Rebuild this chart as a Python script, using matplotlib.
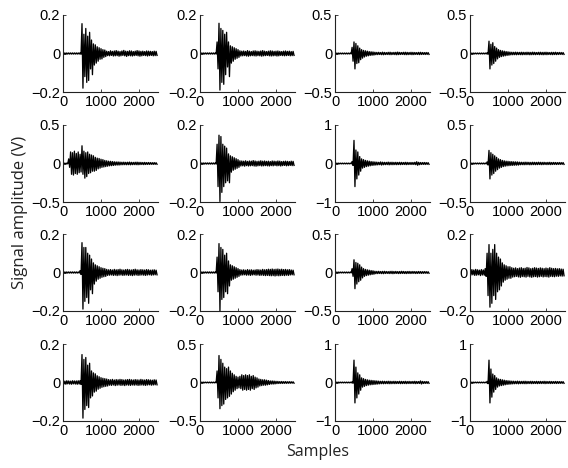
import matplotlib
matplotlib.use("Agg")
import matplotlib.pyplot as plt

# Sample positions of the envelope readings (every 50 samples, 0..2450)
sample_pos = list(range(0, 2500, 50))
x_ticks = [0, 1000, 2000]
x_max = 2500

# Symmetric y-limits of each panel, row by row
y_limits = [
    [0.2, 0.2, 0.5, 0.5],
    [0.5, 0.2, 1.0, 0.5],
    [0.2, 0.2, 0.5, 0.2],
    [0.2, 0.5, 1.0, 1.0],
]

# Upper / lower envelope of each recorded signal (V)
a1_hi = [0.003] * 9 + [0.004, .155, .10, .13, .09, .11, .07, .05, .045, .035, .03, .025, .02, .018] + \
    [.012, .010, .014, .011, .013, .015, .012, .010, .013, .016, .012, .011, .014, .013, .010, .012, .015,
     .013, .011, .012, .010, .013, .012, .011, .010, .012, .011]
a1_lo = [-0.003] * 9 + [-0.004, -.18, -.12, -.15, -.14, -.08, -.11, -.06, -.05, -.04, -.03, -.028, -.02, -.016] + \
    [-.011, -.012, -.010, -.013, -.012, -.011, -.014, -.012, -.010, -.012, -.015, -.011, -.012, -.013, -.011,
     -.010, -.012, -.014, -.012, -.010, -.011, -.013, -.011, -.010, -.012, -.011, -.010]

a2_hi = [0.003] * 9 + [.06, .157, .13, .12, .10, .11, .06, .04, .035, .03, .025, .02] + \
    [.014, .012, .013, .011, .015, .012, .010, .013, .014, .012, .011, .013, .015, .012, .010,
     .012, .014, .013, .011, .012, .013, .011, .010, .012, .013, .011, .012, .010, .011]
a2_lo = [-0.003] * 9 + [-.08, -.19, -.15, -.16, -.11, -.07, -.12, -.05, -.04, -.03, -.025, -.02] + \
    [-.013, -.012, -.011, -.013, -.014, -.012, -.011, -.012, -.013, -.011, -.012, -.014, -.012, -.011, -.010,
     -.012, -.013, -.012, -.011, -.013, -.012, -.010, -.011, -.012, -.011, -.010, -.012, -.011, -.010]

a3_hi = [0.006] * 9 + [.08, .15, .13, .10, .07, .05, .04, .035, .03, .025, .022, .02] + \
    [.016, .014, .015, .013, .017, .014, .012, .015, .016, .013, .014, .015, .018, .014, .013,
     .015, .016, .014, .013, .015, .014, .013, .012, .014, .015, .013, .012, .013, .012]
a3_lo = [-0.006] * 9 + [-.1, -.2, -.13, -.12, -.08, -.06, -.045, -.035, -.03, -.025, -.022, -.02] + \
    [-.015, -.014, -.013, -.015, -.016, -.014, -.013, -.014, -.015, -.013, -.014, -.016, -.014, -.013, -.012,
     -.014, -.015, -.014, -.013, -.015, -.014, -.012, -.013, -.014, -.013, -.012, -.013, -.012, -.012]

a4_hi = [0.006] * 9 + [.01, .16, .12, .14, .09, .07, .05, .04, .035, .03, .025, .022] + \
    [.018, .016, .015, .017, .015, .014, .016, .015, .014, .016, .015, .014, .017, .015, .013,
     .015, .016, .014, .015, .016, .014, .013, .015, .014, .016, .013, .014, .013, .012]
a4_lo = [-0.006] * 9 + [-.01, -.2, -.15, -.13, -.10, -.07, -.05, -.04, -.035, -.03, -.025, -.022] + \
    [-.017, -.016, -.015, -.016, -.014, -.015, -.016, -.014, -.015, -.014, -.016, -.015, -.014, -.015, -.013,
     -.015, -.014, -.016, -.014, -.015, -.013, -.014, -.015, -.013, -.014, -.013, -.012, -.013, -.012]

b1_hi = [0.005] * 3 + [.06, .15, .14, .16, .13, .15, .12, .23, .16, .14, .15, .12, .11, .10, .08, .07, .065,
                       .055, .05, .04, .035, .03, .028, .025, .022, .02, .02] + \
    [.018, .016, .017, .015, .016, .018, .015, .014, .016, .017, .015, .014, .013, .014, .012,
     .013, .012, .011, .012, .010]
b1_lo = [-0.005] * 3 + [-.05, -.14, -.15, -.13, -.14, -.12, -.11, -.14, -.19, -.17, -.13, -.12, -.10, -.10, -.09,
                        -.07, -.06, -.05, -.045, -.04, -.035, -.03, -.028, -.025, -.022, -.02, -.02] + \
    [-.017, -.016, -.015, -.016, -.015, -.017, -.015, -.014, -.015, -.016, -.014, -.013, -.014, -.013, -.012,
     -.012, -.011, -.012, -.011, -.010]

b2_hi = [0.003] * 9 + [.1, .147, .14, .10, .09, .08, .05, .04, .035, .03, .025, .02] + \
    [.014, .013, .012, .014, .011, .013, .012, .015, .013, .011, .012, .014, .012, .013, .011,
     .012, .010, .013, .012, .011, .013, .012, .010, .011, .012, .011, .010, .012, .011]
b2_lo = [-0.003] * 9 + [-.12, -.197, -.15, -.12, -.10, -.09, -.10, -.045, -.035, -.03, -.025, -.02] + \
    [-.013, -.012, -.014, -.011, -.013, -.012, -.011, -.013, -.014, -.012, -.011, -.013, -.012, -.011, -.012,
     -.013, -.011, -.012, -.010, -.012, -.011, -.013, -.011, -.010, -.012, -.011, -.010, -.011, -.010]

b3_hi = [0.01] * 9 + [.05, .6, .35, .3, .18, .12, .1, .08, .07, .06, .05, .045, .04] + \
    [.035, .03, .04, .033, .03, .028, .035, .03, .032, .028, .03, .027, .03, .028, .026,
     .03, .028, .025, .027, .026, .03, .045, .03, .026, .025, .027, .024, .022]
b3_lo = [-0.01] * 9 + [-.05, -.6, -.4, -.3, -.2, -.12, -.1, -.08, -.07, -.06, -.05, -.045, -.04] + \
    [-.035, -.03, -.04, -.032, -.03, -.028, -.034, -.03, -.031, -.028, -.03, -.027, -.029, -.027, -.026,
     -.029, -.027, -.025, -.026, -.025, -.03, -.045, -.03, -.025, -.024, -.026, -.023, -.022]

b4_hi = [0.006] * 9 + [.02, .17, .14, .12, .10, .08, .06, .05, .04, .035, .03, .028, .025, .024, .022, .021, .02] + \
    [.017, .016, .015, .017, .016, .015, .014, .016, .015, .014, .016, .015,
     .014, .015, .013, .014, .015, .013, .014, .013, .012, .013, .012, .012]
b4_lo = [-0.006] * 9 + [-.02, -.2, -.15, -.13, -.10, -.08, -.06, -.05, -.04, -.035, -.03, -.028, -.025, -.024,
                        -.022, -.021, -.02] + \
    [-.016, -.015, -.016, -.015, -.014, -.016, -.015, -.014, -.015, -.014, -.013, -.015,
     -.014, -.013, -.014, -.013, -.014, -.013, -.012, -.013, -.012, -.012, -.011, -.012]

c1_hi = [0.003] * 9 + [.01, .155, .13, .13, .10, .09, .07, .05, .04, .035, .03, .025, .022, .02] + \
    [.016, .014, .015, .013, .016, .014, .015, .017, .014, .013, .015, .016, .014, .013,
     .015, .017, .014, .013, .015, .014, .013, .015, .014, .012, .013, .014, .012]
c1_lo = [-0.003] * 9 + [-.01, -.19, -.15, -.13, -.16, -.09, -.11, -.06, -.045, -.035, -.03, -.025, -.022, -.02] + \
    [-.015, -.014, -.013, -.015, -.014, -.016, -.014, -.013, -.015, -.014, -.013, -.015, -.014, -.016,
     -.014, -.013, -.015, -.014, -.013, -.014, -.015, -.013, -.012, -.014, -.013, -.012, -.012]

c2_hi = [0.003] * 9 + [.08, .15, .13, .12, .09, .10, .06, .04, .035, .03, .025, .02] + \
    [.015, .013, .014, .012, .015, .013, .014, .012, .013, .015, .014, .013, .016, .014, .015,
     .017, .016, .018, .016, .017, .018, .016, .017, .015, .016, .014, .015, .013, .012]
c2_lo = [-0.003] * 9 + [-.1, -.2, -.14, -.13, -.1, -.11, -.07, -.04, -.035, -.03, -.025, -.02] + \
    [-.014, -.013, -.012, -.014, -.013, -.015, -.013, -.012, -.014, -.013, -.015, -.014, -.015, -.016, -.015,
     -.016, -.017, -.016, -.018, -.016, -.017, -.016, -.015, -.016, -.014, -.015, -.013, -.012, -.012]

c3_hi = [0.006] * 9 + [.05, .165, .13, .12, .1, .07, .05, .04, .035, .03, .025, .022] + \
    [.016, .014, .015, .013, .014, .015, .013, .012, .014, .015, .013, .014, .012, .013, .015,
     .014, .012, .013, .014, .012, .013, .012, .011, .013, .012, .011, .012, .011, .010]
c3_lo = [-0.006] * 9 + [-.05, -.21, -.15, -.12, -.1, -.07, -.05, -.04, -.035, -.03, -.025, -.022] + \
    [-.015, -.014, -.013, -.014, -.015, -.013, -.012, -.014, -.013, -.015, -.013, -.012, -.014, -.013, -.012,
     -.013, -.014, -.012, -.013, -.012, -.011, -.013, -.012, -.011, -.012, -.011, -.010, -.011, -.010]

c4_hi = [.012, .015, .013, .016, .014, .012, .015, .013] + \
    [.02, .1, .145, .10, .12, .145, .1, .08, .07, .05, .04, .035, .03, .03] + \
    [.025, .022, .024, .02, .023, .025, .021, .022, .026, .024, .02, .022, .025, .023,
     .021, .024, .022, .02, .023, .021, .025, .022, .02, .021, .019, .02, .018, .017]
c4_lo = [-.013, -.012, -.015, -.014, -.012, -.016, -.013, -.014] + \
    [-.02, -.12, -.18, -.16, -.12, -.14, -.1, -.09, -.07, -.05, -.04, -.035, -.03, -.03] + \
    [-.024, -.022, -.02, -.023, -.025, -.021, -.022, -.024, -.02, -.023, -.025, -.022, -.021, -.024,
     -.022, -.02, -.023, -.021, -.022, -.024, -.02, -.021, -.022, -.019, -.02, -.018, -.019, -.017]

d1_hi = [.008, .007, .009, .008, .007, .009, .008, .008, .009] + \
    [.01, .145, .12, .13, .09, .1, .06, .05, .045, .035, .03, .025, .022, .02, .018] + \
    [.015, .014, .016, .013, .015, .014, .016, .015, .013, .014, .015, .016, .014,
     .013, .015, .014, .013, .016, .014, .013, .015, .014, .013, .012, .014, .013]
d1_lo = [-.008, -.009, -.007, -.008, -.009, -.007, -.008, -.009, -.008] + \
    [-.01, -.185, -.14, -.12, -.13, -.08, -.07, -.05, -.045, -.035, -.03, -.025, -.022, -.02, -.018] + \
    [-.014, -.015, -.013, -.016, -.014, -.013, -.015, -.014, -.016, -.013, -.014, -.015, -.013,
     -.014, -.013, -.015, -.014, -.013, -.014, -.015, -.013, -.012, -.014, -.013, -.012, -.012]

d2_hi = [0.005] * 9 + [.15, .35, .3, .25, .2, .18, .2, .15, .12, .1, .08, .07, .08, .1, .09, .1, .09, .1, .08,
                       .09, .07, .06, .045, .04, .035, .035, .03, .025, .02, .02, .018] + \
    [.015, .014, .012, .013, .011, .012, .010, .011, .010, .009]
d2_lo = [-0.005] * 9 + [-.2, -.34, -.3, -.28, -.22, -.2, -.18, -.15, -.12, -.1, -.08, -.07, -.08, -.1, -.09, -.1,
                        -.09, -.1, -.08, -.09, -.07, -.06, -.045, -.04, -.035, -.035, -.03, -.025, -.02, -.02,
                        -.018] + \
    [-.014, -.013, -.012, -.012, -.011, -.011, -.010, -.010, -.009, -.009]

d3_hi = [0.01] * 9 + [.02, .58, .4, .25, .2, .12, .1, .08, .07, .06, .055, .05, .045, .04] + \
    [.035, .03, .033, .03, .028, .032, .03, .027, .03, .028, .026, .03, .028, .027,
     .03, .026, .028, .025, .027, .03, .026, .025, .04, .027, .024, .025, .023]
d3_lo = [-0.01] * 9 + [-.02, -.53, -.4, -.3, -.2, -.12, -.1, -.08, -.07, -.06, -.055, -.05, -.045, -.04] + \
    [-.034, -.03, -.032, -.029, -.028, -.031, -.03, -.027, -.029, -.027, -.026, -.029, -.027, -.026,
     -.029, -.026, -.027, -.025, -.026, -.029, -.025, -.024, -.038, -.026, -.024, -.024, -.022]

d4_hi = [0.01] * 9 + [.03, .58, .35, .22, .18, .12, .09, .08, .07, .06, .05, .045, .04, .035] + \
    [.033, .03, .035, .03, .028, .03, .032, .028, .027, .03, .028, .026, .029, .027,
     .028, .026, .03, .027, .025, .028, .026, .024, .027, .025, .024, .023, .022]
d4_lo = [-0.01] * 9 + [-.03, -.53, -.38, -.25, -.18, -.12, -.09, -.08, -.07, -.06, -.05, -.045, -.04, -.035] + \
    [-.032, -.03, -.034, -.029, -.028, -.03, -.031, -.027, -.026, -.029, -.027, -.026, -.028, -.026,
     -.027, -.025, -.029, -.026, -.025, -.027, -.025, -.024, -.026, -.024, -.023, -.022, -.022]

envelopes = [
    [(a1_hi, a1_lo), (a2_hi, a2_lo), (a3_hi, a3_lo), (a4_hi, a4_lo)],
    [(b1_hi, b1_lo), (b2_hi, b2_lo), (b3_hi, b3_lo), (b4_hi, b4_lo)],
    [(c1_hi, c1_lo), (c2_hi, c2_lo), (c3_hi, c3_lo), (c4_hi, c4_lo)],
    [(d1_hi, d1_lo), (d2_hi, d2_lo), (d3_hi, d3_lo), (d4_hi, d4_lo)],
]

W, H = 568, 468
fig = plt.figure(figsize=(W / 100, H / 100), dpi=100)

col_left = [63, 200, 335, 470]
row_top = [15, 125, 234, 344]
ax_w, ax_h = 95, 77
tick_font = dict(family="Liberation Sans", size=10.5)


def trace(hi, lo):
    """Interleave upper and lower envelope readings into one oscillating trace."""
    xs, ys = [], []
    for x, u, d in zip(sample_pos, hi, lo):
        xs += [x, x + 25]
        ys += [u, d]
    return xs, ys


for r in range(4):
    for c in range(4):
        ax = fig.add_axes([col_left[c] / W, 1 - (row_top[r] + ax_h) / H, ax_w / W, ax_h / H])
        hi, lo = envelopes[r][c]
        xs, ys = trace(hi, lo)
        ax.plot(xs, ys, color="black", lw=0.95)
        lim = y_limits[r][c]
        ax.set_xlim(0, x_max)
        ax.set_ylim(-lim, lim)
        ax.set_xticks(x_ticks)
        ax.set_yticks([-lim, 0, lim])
        ax.set_yticklabels([f"{-lim:g}".replace("-", "\u2212"), "0", f"{lim:g}"])
        for side in ("top", "right"):
            ax.spines[side].set_visible(False)
        for side in ("left", "bottom"):
            ax.spines[side].set_color("#222222")
            ax.spines[side].set_linewidth(0.8)
        ax.tick_params(direction="in", length=2.5, width=0.6, pad=2, colors="#222222")
        for lab in ax.get_xticklabels() + ax.get_yticklabels():
            lab.set_fontfamily(tick_font["family"])
            lab.set_fontsize(tick_font["size"])
            lab.set_color("black")

fig.text(0.035, 0.547, "Signal amplitude (V)", rotation=90, ha="center", va="center",
         fontsize=12, family="Open Sans", color="#222222")
fig.text(0.56, 0.034, "Samples", ha="center", va="center", fontsize=11.5, family="Open Sans",
         color="#222222")

fig.savefig("out.png", dpi=100)
